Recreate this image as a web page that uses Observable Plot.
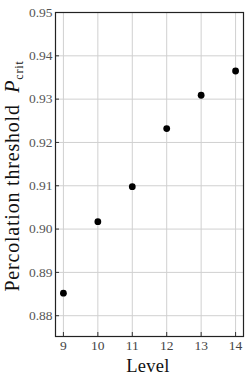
<!DOCTYPE html>
<html><head><meta charset="utf-8">
<script src="https://cdn.jsdelivr.net/npm/d3@7"></script>
<script src="https://cdn.jsdelivr.net/npm/@observablehq/plot@0.6"></script>
<style>body{margin:0;background:#fff}</style>
</head><body><div id="chart"></div>
<script>
const levels = [9, 10, 11, 12, 13, 14];
const thresholds = [0.8852, 0.9017, 0.9098, 0.9232, 0.9309, 0.9365];
const yTicks = [0.88, 0.89, 0.90, 0.91, 0.92, 0.93, 0.94, 0.95];
const xTicks = [9, 10, 11, 12, 13, 14];
const data = levels.map((l, i) => ({level: l, p: thresholds[i]}));
const font = "Liberation Serif";
const W = 250, H = 380, mL = 55, mR = 7, mT = 12, mB = 44;
const chart = Plot.plot({
  width: W, height: H,
  marginLeft: mL, marginRight: mR, marginTop: mT, marginBottom: mB,
  style: {fontFamily: font, fontSize: "13px", background: "#fff"},
  x: {domain: [8.77, 14.23], label: null},
  y: {domain: [0.8752, 0.95], label: null},
  marks: [
    Plot.gridX(xTicks, {stroke: "#d0d0d0", strokeOpacity: 1, strokeWidth: 1}),
    Plot.gridY(yTicks, {stroke: "#d0d0d0", strokeOpacity: 1, strokeWidth: 1}),
    Plot.ruleX(xTicks, {stroke: "#333", insetTop: (H - mT - mB) - 4}),
    Plot.ruleY(yTicks, {stroke: "#333", insetRight: (W - mL - mR) - 4}),
    Plot.axisX(xTicks, {tickSize: 0, tickPadding: 4, fontSize: 13.5, fontFamily: font, fill: "#444", label: null}),
    Plot.axisY(yTicks, {tickSize: 0, tickPadding: 3, tickFormat: d3.format(".2f"), fontSize: 13.5, fontFamily: font, fill: "#555", label: null}),
    Plot.frame({stroke: "#222", strokeWidth: 1.2}),
    Plot.dot(data, {x: "level", y: "p", r: 3.4, fill: "black", stroke: "none"})
  ]
});
document.getElementById("chart").appendChild(chart);
const svg = d3.select(chart);
svg.append("text")
  .attr("x", 148).attr("y", 372).attr("text-anchor", "middle")
  .style("font-family", font).style("font-size", "18.5px").style("letter-spacing", "0.3px").attr("fill", "#111")
  .text("Level");
const yl = svg.append("text")
  .attr("transform", "translate(19,176) rotate(-90)")
  .attr("text-anchor", "middle")
  .style("font-family", font).style("font-size", "20px").style("letter-spacing", "0.8px").attr("fill", "#111");
yl.append("tspan").text("Percolation threshold  ");
yl.append("tspan").style("font-style", "italic").text("P");
yl.append("tspan").style("font-size", "12px").attr("dy", 4).text("crit");
</script></body></html>
